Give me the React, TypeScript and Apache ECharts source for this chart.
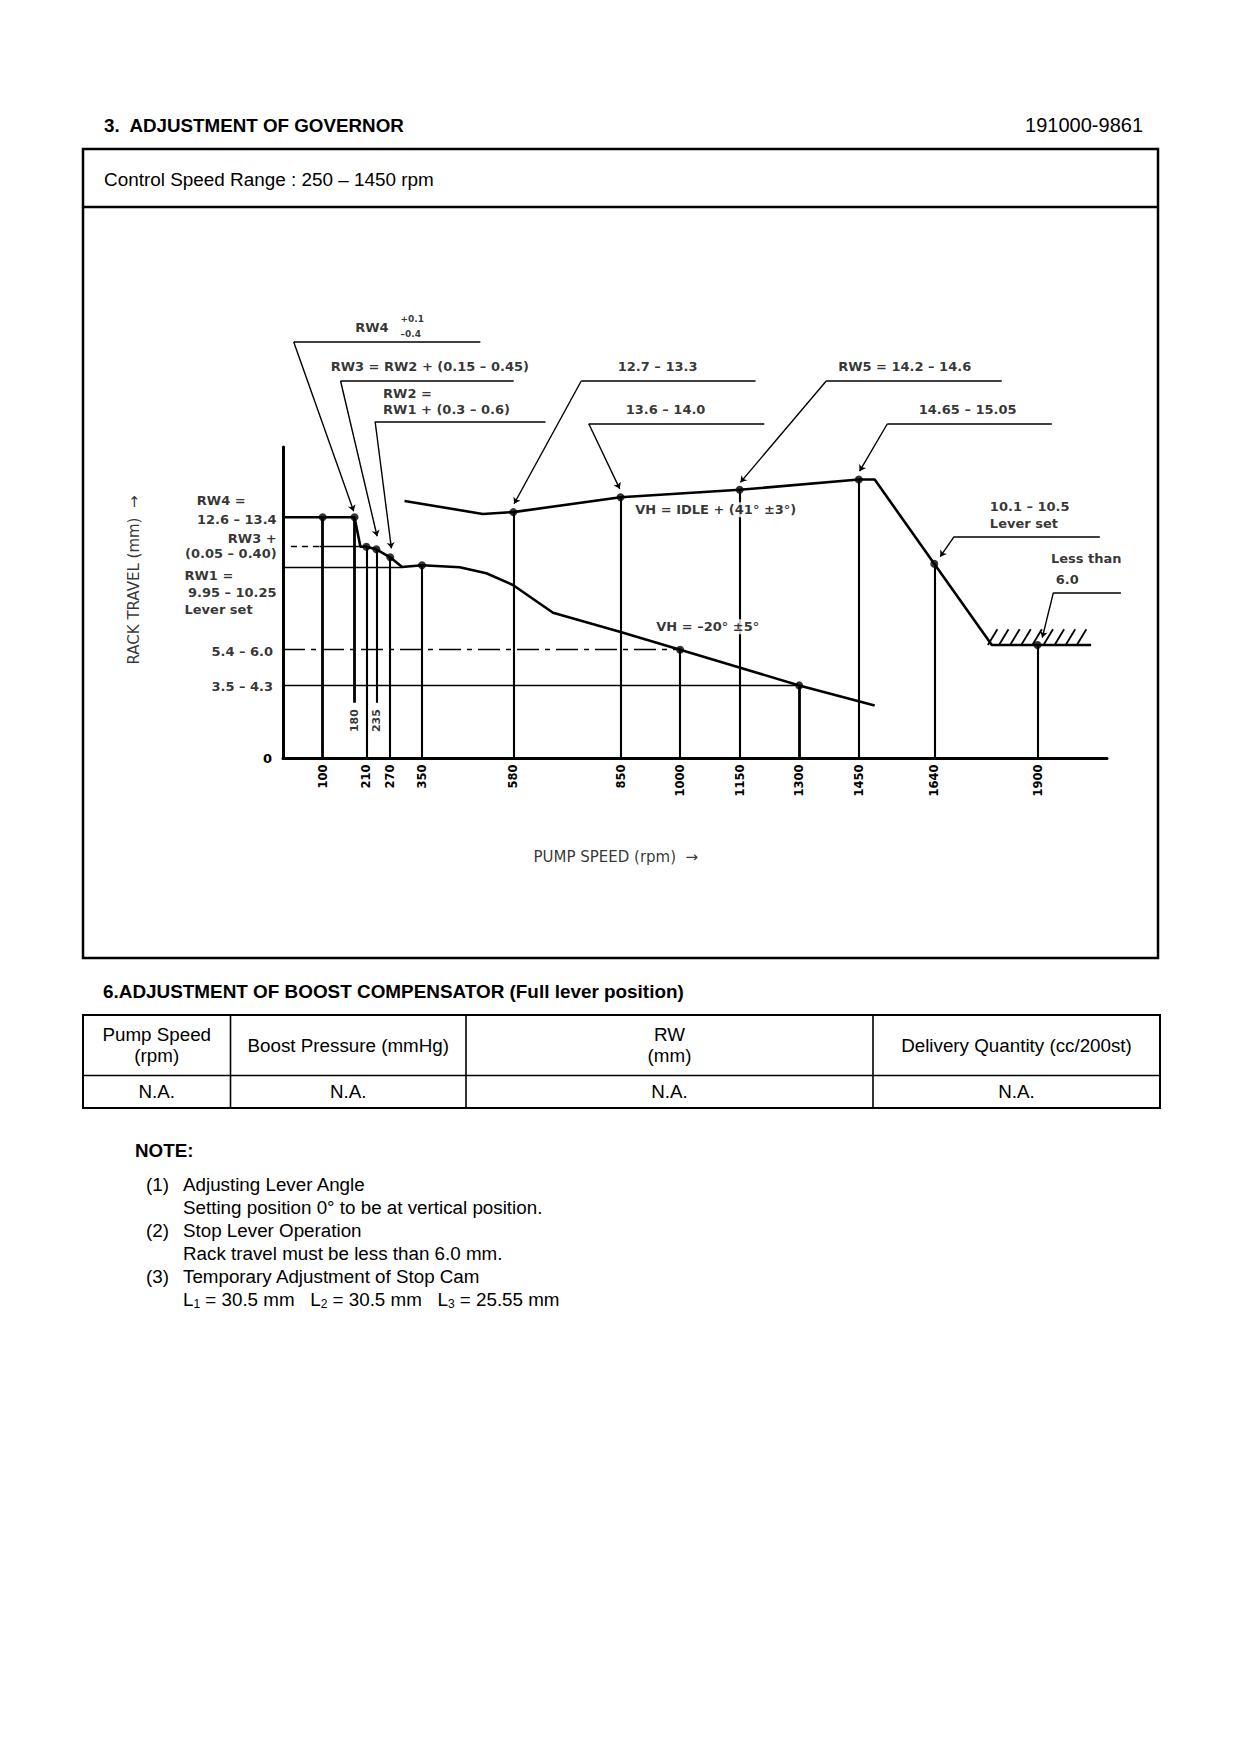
import React, { useEffect, useRef } from "react";
import * as echarts from "echarts";

// ---------------- data ----------------
const xTickValues = [100, 210, 270, 350, 580, 850, 1000, 1150, 1300, 1450, 1640, 1900];
const innerTickValues = [180, 235];
const X_MAX = 2075;
const Y_MAX = 16.75;

// full-load curve (rpm, rack travel mm)
const fullLoadCurve: [number, number][] = [
  [0, 12.97], [100, 12.97], [180, 12.97], [195, 11.39], [210, 11.39], [235, 11.25], [270, 10.82],
  [300, 10.3], [350, 10.39], [445, 10.28], [512, 9.96], [579, 9.33], [680, 7.84], [848, 6.82],
  [1000, 5.85], [1300, 3.93], [1490, 2.85],
];
// idle / lever-set curve
const idleCurve: [number, number][] = [
  [306, 13.85], [503, 13.15], [580, 13.25], [850, 14.05], [1150, 14.45], [1450, 15.0],
  [1490, 15.0], [1640, 10.47], [1785, 6.1], [1900, 6.1], [2035, 6.1],
];
const markedFull = [100, 180, 210, 235, 270, 350, 1000, 1300];
const markedIdle = [580, 850, 1150, 1450, 1640, 1900];

// reference levels: [fromRpm, toRpm, mm, style]
const refLevels: [number, number, number, string][] = [
  [0, 300, 10.3, "solid"],
  [20, 92, 11.39, "dashed"],
  [92, 210, 11.39, "solid"],
  [0, 1000, 5.85, "dashdot"],
  [0, 1300, 3.93, "solid"],
];

// hatch strokes (start rpm) on the stop level
const hatchStarts = [1775, 1803, 1831, 1859, 1887, 1915, 1943, 1971, 1999];
const hatchLevel = 6.1;

// y-side labels: [text, rpm, mm, align]
const yLabels: [string, number, number, string][] = [
  ["RW4 =", -217, 13.86, "left"],
  ["12.6 – 13.4", -16, 12.85, "right"],
  ["RW3 +", -16, 11.85, "right"],
  ["(0.05 – 0.40)", -16, 11.0, "right"],
  ["RW1 =", -248, 9.85, "left"],
  ["9.95 – 10.25", -16, 8.93, "right"],
  ["Lever set", -248, 8.03, "left"],
  ["5.4 – 6.0", -25, 5.75, "right"],
  ["3.5 – 4.3", -25, 3.85, "right"],
];

// callout texts: [text, rpm, mm]
const calloutLabels: [string, number, number][] = [
  ["RW4", 182, 23.17],
  ["RW3 = RW2 + (0.15 – 0.45)", 120, 21.06],
  ["RW2 =", 252, 19.62],
  ["RW1 + (0.3 – 0.6)", 252, 18.78],
  ["12.7 – 13.3", 843, 21.06],
  ["13.6 – 14.0", 863, 18.79],
  ["RW5 = 14.2 – 14.6", 1398, 21.06],
  ["14.65 – 15.05", 1601, 18.79],
  ["10.1 – 10.5", 1780, 13.55],
  ["Lever set", 1780, 12.66],
  ["Less than", 1934, 10.73],
  ["6.0", 1946, 9.65],
];
const toleranceLabels: [string, number, number][] = [
  ["+0.1", 296, 23.62],
  ["–0.4", 296, 22.85],
];
// callout underlines: [fromRpm, toRpm, mm]; leaders run from underline start to target
const calloutUnderlines: [number, number, number][] = [
  [27, 497, 22.4],
  [145, 581, 20.3],
  [232, 661, 18.12],
  [751, 1190, 20.3],
  [770, 1212, 18.0],
  [1368, 1810, 20.3],
  [1522, 1936, 18.0],
  [1690, 2057, 11.93],
  [1940, 2110, 8.92],
];
const calloutTargets: [number, number][] = [
  [178, 13.3], [237, 11.95], [273, 11.3], [582, 13.7], [848, 14.5],
  [1152, 14.85], [1452, 15.45], [1655, 10.85], [1912, 6.5],
];
const curveNotes: [string, number, number][] = [
  ["VH = IDLE + (41° ±3°)", 882, 13.38],
  ["VH = –20° ±5°", 935, 7.08],
];
const innerTickLabelLevel = 2.04;
const innerTickLineEnd = 3.0;
const yTitle = "RACK TRAVEL (mm)  →";
const yTitleAt: [number, number] = [-376, 9.6];
const xTitle = "PUMP SPEED (rpm)  →";
const xTitleAt: [number, number] = [838, -5.3];

// page texts
const pageTitle = "3.  ADJUSTMENT OF GOVERNOR";
const partNumber = "191000-9861";
const controlRange = "Control Speed Range : 250 – 1450 rpm";
const boostTitle = "6.ADJUSTMENT OF BOOST COMPENSATOR (Full lever position)";
const boostHeaders = ["Pump Speed\n(rpm)", "Boost Pressure (mmHg)", "RW\n(mm)", "Delivery Quantity (cc/200st)"];
const boostValues = ["N.A.", "N.A.", "N.A.", "N.A."];
const noteTitle = "NOTE:";
const notes: [string, string, string][] = [
  ["(1)", "Adjusting Lever Angle", "Setting position 0° to be at vertical position."],
  ["(2)", "Stop Lever Operation", "Rack travel must be less than 6.0 mm."],
  ["(3)", "Temporary Adjustment of Stop Cam", "L{s|1} = 30.5 mm   L{s|2} = 30.5 mm   L{s|3} = 25.55 mm"],
];

// ---------------- helpers ----------------
const BLACK = "#000";
const CHART_FONT = "DejaVu Sans";
const DOC_FONT = "Liberation Sans";
const DOC_SIZE = 18.8;

function docText(text: string, x: number, y: number, opts: any = {}) {
  const size = opts.size ?? DOC_SIZE;
  const weight = opts.bold ? "bold" : "normal";
  const align = opts.align ?? "left";
  return {
    type: "text",
    x,
    y,
    z: 5,
    style: {
      text,
      fill: BLACK,
      font: `${weight} ${size}px "${DOC_FONT}"`,
      align,
      verticalAlign: "middle",
      textAlign: align,
      textVerticalAlign: "middle",
      lineHeight: opts.lineHeight ?? 21,
      rich: opts.rich,
    },
  };
}
function hLine(x1: number, x2: number, y: number, w = 2) {
  return { type: "line", z: 5, shape: { x1, y1: y, x2, y2: y }, style: { stroke: BLACK, lineWidth: w } };
}
function vLine(x: number, y1: number, y2: number, w = 2) {
  return { type: "line", z: 5, shape: { x1: x, y1, x2: x, y2 }, style: { stroke: BLACK, lineWidth: w } };
}

function labelItem(text: string, at: [number, number], o: any = {}) {
  return {
    value: at,
    label: {
      show: true,
      position: "inside",
      formatter: text,
      align: o.align ?? "left",
      verticalAlign: "middle",
      color: BLACK,
      fontFamily: o.family ?? CHART_FONT,
      fontWeight: o.weight ?? "bold",
      fontSize: o.size ?? 13,
      rotate: o.rotate ?? 0,
      backgroundColor: o.bg ? "#fff" : "transparent",
      padding: o.bg ? [1, 2] : 0,
    },
  };
}

function buildOption() {
  const markers = [
    ...fullLoadCurve.filter((p) => markedFull.includes(p[0])),
    ...idleCurve.filter((p) => markedIdle.includes(p[0])),
  ];
  const dropLines = markers.map((p) => ({
    coords: [p, [p[0], innerTickValues.includes(p[0]) ? innerTickLineEnd : 0]],
    lineStyle: { width: [100, 180, 1300].includes(p[0]) ? 2.8 : 2.1, opacity: 1 },
  }));
  const refLineData = refLevels.map(([a, b, y, t]) => ({
    coords: [[a, y], [b, y]],
    lineStyle: {
      width: 1.3,
      opacity: 1,
      type: t === "dashed" ? [6, 5] : t === "dashdot" ? [22, 6, 5, 6] : "solid",
    },
  }));
  const hatchData = hatchStarts.map((x) => ({ coords: [[x, hatchLevel], [x + 24, hatchLevel + 0.85]] }));
  const underlineData = calloutUnderlines.map(([a, b, y]) => ({ coords: [[a, y], [b, y]] }));
  const leaderData = calloutUnderlines.map(([a, , y], i) => ({ coords: [[a, y], calloutTargets[i]] }));

  const texts: any[] = [
    ...yLabels.map(([t, x, y, al]) => labelItem(t, [x, y], { align: al })),
    ...calloutLabels.map(([t, x, y]) => labelItem(t, [x, y])),
    ...toleranceLabels.map(([t, x, y]) => labelItem(t, [x, y], { size: 9 })),
    ...curveNotes.map(([t, x, y]) => labelItem(t, [x, y], { bg: true })),
    ...innerTickValues.map((v) =>
      labelItem(String(v), [v, innerTickLabelLevel], { align: "center", rotate: 90, size: 11, bg: true })
    ),
    labelItem(yTitle, yTitleAt, { align: "center", rotate: 90, size: 15, weight: "normal" }),
    labelItem(xTitle, xTitleAt, { align: "center", size: 15, weight: "normal" }),
  ];

  // page layout graphics
  const g: any[] = [];
  g.push(docText(pageTitle, 104, 125, { bold: true }));
  g.push(docText(partNumber, 1143, 125, { size: 20, align: "right" }));
  g.push({
    type: "rect",
    z: 5,
    shape: { x: 83, y: 149, width: 1075, height: 809 },
    style: { fill: "none", stroke: BLACK, lineWidth: 2.5 },
  });
  g.push(hLine(83, 1158, 207, 2.5));
  g.push(docText(controlRange, 104, 179, { size: 18.9 }));
  g.push(docText(boostTitle, 103, 991, { bold: true, size: 18.9 }));
  // table
  const tl = 83, tr = 1160, tt = 1015, tm = 1075.5, tb = 1108;
  const cols = [tl, 230.5, 466, 873, tr];
  g.push({ type: "rect", z: 5, shape: { x: tl, y: tt, width: tr - tl, height: tb - tt }, style: { fill: "none", stroke: BLACK, lineWidth: 2 } });
  g.push(hLine(tl, tr, tm, 1.6));
  for (let i = 1; i < cols.length - 1; i++) g.push(vLine(cols[i], tt, tb, 1.6));
  boostHeaders.forEach((h, i) => {
    const cx = (cols[i] + cols[i + 1]) / 2;
    g.push(docText(h, cx, (tt + tm) / 2, { align: "center" }));
    g.push(docText(boostValues[i], cx, (tm + tb) / 2, { align: "center" }));
  });
  // notes
  g.push(docText(noteTitle, 135, 1150, { bold: true }));
  const rowH = 23.0;
  notes.forEach(([num, l1, l2], i) => {
    const y = 1184 + i * rowH * 2;
    g.push(docText(num, 146, y));
    g.push(docText(l1, 183, y));
    g.push(
      docText(l2, 183, y + rowH, {
        rich: { s: { fontSize: 12, fontFamily: DOC_FONT, verticalAlign: "bottom", padding: [6, 0, 0, 0] } },
      })
    );
  });

  return {
    animation: false,
    backgroundColor: "#fff",
    grid: { left: 283, top: 447, right: 133, bottom: 995.5 },
    xAxis: {
      type: "value",
      min: 0,
      max: X_MAX,
      axisLine: { show: true, onZero: false, lineStyle: { color: BLACK, width: 3 } },
      axisTick: { show: false },
      splitLine: { show: false },
      axisLabel: {
        customValues: xTickValues,
        rotate: 90,
        margin: 6,
        color: BLACK,
        fontFamily: CHART_FONT,
        fontWeight: "bold",
        fontSize: 11.5,
        formatter: (v: number) => String(v),
      },
    },
    yAxis: {
      type: "value",
      min: 0,
      max: Y_MAX,
      axisLine: { show: true, onZero: false, lineStyle: { color: BLACK, width: 3 } },
      axisTick: { show: false },
      splitLine: { show: false },
      axisLabel: {
        customValues: [0],
        margin: 11,
        color: BLACK,
        fontFamily: CHART_FONT,
        fontWeight: "bold",
        fontSize: 13,
        formatter: (v: number) => String(v),
      },
    },
    graphic: { elements: g },
    series: [
      {
        type: "lines",
        coordinateSystem: "cartesian2d",
        data: refLineData,
        lineStyle: { color: BLACK, width: 1.3, opacity: 1 },
        z: 1,
        silent: true,
      },
      {
        type: "lines",
        coordinateSystem: "cartesian2d",
        data: dropLines,
        lineStyle: { color: BLACK, width: 2.1, opacity: 1 },
        z: 2,
        silent: true,
      },
      {
        type: "line",
        data: fullLoadCurve,
        symbol: "none",
        lineStyle: { color: BLACK, width: 2.6 },
        z: 3,
        silent: true,
      },
      {
        type: "line",
        data: idleCurve,
        symbol: "none",
        lineStyle: { color: BLACK, width: 2.6 },
        z: 3,
        silent: true,
      },
      {
        type: "lines",
        coordinateSystem: "cartesian2d",
        data: hatchData,
        lineStyle: { color: BLACK, width: 1.8, opacity: 1 },
        z: 3,
        silent: true,
      },
      {
        type: "lines",
        coordinateSystem: "cartesian2d",
        clip: false,
        data: underlineData,
        lineStyle: { color: BLACK, width: 1.5, opacity: 1 },
        z: 3,
        silent: true,
      },
      {
        type: "lines",
        coordinateSystem: "cartesian2d",
        clip: false,
        data: leaderData,
        symbol: ["none", "arrow"],
        symbolSize: 6,
        lineStyle: { color: BLACK, width: 1.4, opacity: 1 },
        z: 3,
        silent: true,
      },
      {
        type: "scatter",
        data: markers,
        symbolSize: 8,
        itemStyle: { color: BLACK },
        z: 6,
        silent: true,
      },
      {
        type: "scatter",
        clip: false,
        data: texts,
        symbolSize: 1,
        itemStyle: { color: "rgba(0,0,0,0)" },
        z: 8,
        silent: true,
      },
    ],
  };
}

export default function App() {
  const ref = useRef<HTMLDivElement>(null);
  useEffect(() => {
    if (!ref.current) return;
    const chart = echarts.init(ref.current, undefined, { renderer: "svg" });
    chart.setOption(buildOption() as any);
    return () => chart.dispose();
  }, []);
  return (
    <div
      ref={ref}
      style={{ position: "absolute", left: 0, top: 0, width: 1240, height: 1754, background: "#fff" }}
    />
  );
}
